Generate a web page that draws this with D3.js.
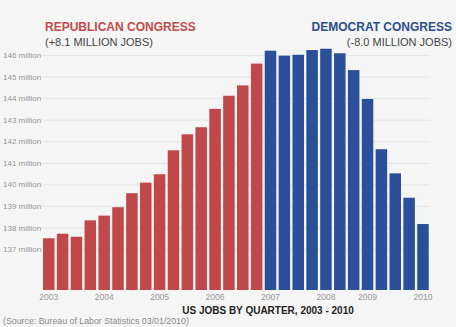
<!DOCTYPE html>
<html>
<head>
<meta charset="utf-8">
<script src="https://cdnjs.cloudflare.com/ajax/libs/d3/7.8.5/d3.min.js"></script>
<style>
  html, body { margin: 0; padding: 0; background: #f5f5f5; }
  svg { display: block; font-family: "Liberation Sans", Arial, sans-serif; }
</style>
</head>
<body>
<div id="box"></div>
<script>
var w = 456,
    h = 327;

// one bar per quarter, 2003 Q1 .. 2009 Q4
var quarters = [
  "2003 Q1", "2003 Q2", "2003 Q3", "2003 Q4",
  "2004 Q1", "2004 Q2", "2004 Q3", "2004 Q4",
  "2005 Q1", "2005 Q2", "2005 Q3", "2005 Q4",
  "2006 Q1", "2006 Q2", "2006 Q3", "2006 Q4",
  "2007 Q1", "2007 Q2", "2007 Q3", "2007 Q4",
  "2008 Q1", "2008 Q2", "2008 Q3", "2008 Q4",
  "2009 Q1", "2009 Q2", "2009 Q3", "2009 Q4"
];

// jobs, millions
var jobs = [
  137.50, 137.71, 137.57, 138.33,
  138.55, 138.94, 139.59, 140.08,
  140.47, 141.58, 142.32, 142.65,
  143.50, 144.11, 144.59, 145.60,
  146.20, 145.97, 146.01, 146.23,
  146.29, 146.08, 145.30, 143.96,
  141.63, 140.51, 139.38, 138.16
];

// which congress each quarter falls under
var congress = [
  "R", "R", "R", "R", "R", "R", "R", "R",
  "R", "R", "R", "R", "R", "R", "R", "R",
  "D", "D", "D", "D", "D", "D", "D", "D",
  "D", "D", "D", "D"
];

var yTicks = [137, 138, 139, 140, 141, 142, 143, 144, 145, 146];

var yearTicks = ["2003 Q1", "2004 Q1", "2005 Q1", "2006 Q1", "2007 Q1", "2008 Q1", "2008 Q4", "2009 Q4"];
var yearLabels = ["2003", "2004", "2005", "2006", "2007", "2008", "2009", "2010"];

var data = quarters.map(function(q, i) {
  return { q: q, v: jobs[i], c: congress[i] };
});

var colors = { R: "#c0474a", D: "#2a5099" };

var svg = d3.select("#box")
            .append("svg")
            .attr("width", w)
            .attr("height", h);

svg.append("rect")
   .attr("width", w)
   .attr("height", h)
   .attr("fill", "#f5f5f5");

var x = d3.scaleBand()
          .domain(quarters)
          .range([41.8, 429.9])
          .paddingInner(0.17)
          .paddingOuter(0.085);

var y = d3.scaleLinear()
          .domain([135.1, 146])
          .range([290, 55]);

// gridlines + labels
var yAxis = d3.axisLeft(y)
              .tickValues(yTicks)
              .tickSize(-(430 - 42))
              .tickFormat(function(d) { return d + " million"; });

var gy = svg.append("g")
            .attr("transform", "translate(42,0)")
            .call(yAxis);

gy.select(".domain").remove();
gy.selectAll(".tick line")
  .attr("stroke", "#e4e4e4");
gy.selectAll(".tick text")
  .attr("x", -39)
  .attr("text-anchor", "start")
  .attr("font-size", "8px")
  .attr("font-family", "Liberation Sans, Arial, sans-serif")
  .attr("fill", "#959595");

svg.selectAll("rect.bar")
   .data(data)
   .enter()
   .append("rect")
   .attr("class", "bar")
   .attr("x", function(d) { return x(d.q); })
   .attr("y", function(d) { return y(d.v); })
   .attr("width", x.bandwidth())
   .attr("height", function(d) { return y(135.1) - y(d.v); })
   .attr("fill", function(d) { return colors[d.c]; });

// year labels under the bars
var xAxis = d3.axisBottom(x)
              .tickValues(yearTicks)
              .tickSize(0)
              .tickPadding(4)
              .tickFormat(function(d) { return yearLabels[yearTicks.indexOf(d)]; });

var gx = svg.append("g")
            .attr("transform", "translate(0,290)")
            .call(xAxis);

gx.select(".domain").remove();
gx.selectAll(".tick text")
  .attr("font-size", "8.5px")
  .attr("font-family", "Liberation Sans, Arial, sans-serif")
  .attr("fill", "#959595");

// headings
svg.append("text")
   .text("REPUBLICAN CONGRESS")
   .attr("x", 45)
   .attr("y", 31)
   .attr("font-size", "12px")
   .attr("font-weight", "bold")
   .attr("fill", "#c24b4b");

svg.append("text")
   .text("(+8.1 MILLION JOBS)")
   .attr("x", 45)
   .attr("y", 46)
   .attr("font-size", "11px")
   .attr("fill", "#444");

svg.append("text")
   .text("DEMOCRAT CONGRESS")
   .attr("x", 452)
   .attr("y", 31)
   .attr("text-anchor", "end")
   .attr("font-size", "12px")
   .attr("font-weight", "bold")
   .attr("fill", "#2d4d8c");

svg.append("text")
   .text("(-8.0 MILLION JOBS)")
   .attr("x", 452)
   .attr("y", 46)
   .attr("text-anchor", "end")
   .attr("font-size", "11px")
   .attr("fill", "#444");

svg.append("text")
   .text("US JOBS BY QUARTER, 2003 - 2010")
   .attr("x", 268)
   .attr("y", 314)
   .attr("text-anchor", "middle")
   .attr("font-size", "10px")
   .attr("font-weight", "bold")
   .attr("fill", "#222");

svg.append("text")
   .text("(Source: Bureau of Labor Statistics 03/01/2010)")
   .attr("x", 3)
   .attr("y", 324)
   .attr("font-size", "8.8px")
   .attr("fill", "#8a8a8a");
</script>
</body>
</html>
